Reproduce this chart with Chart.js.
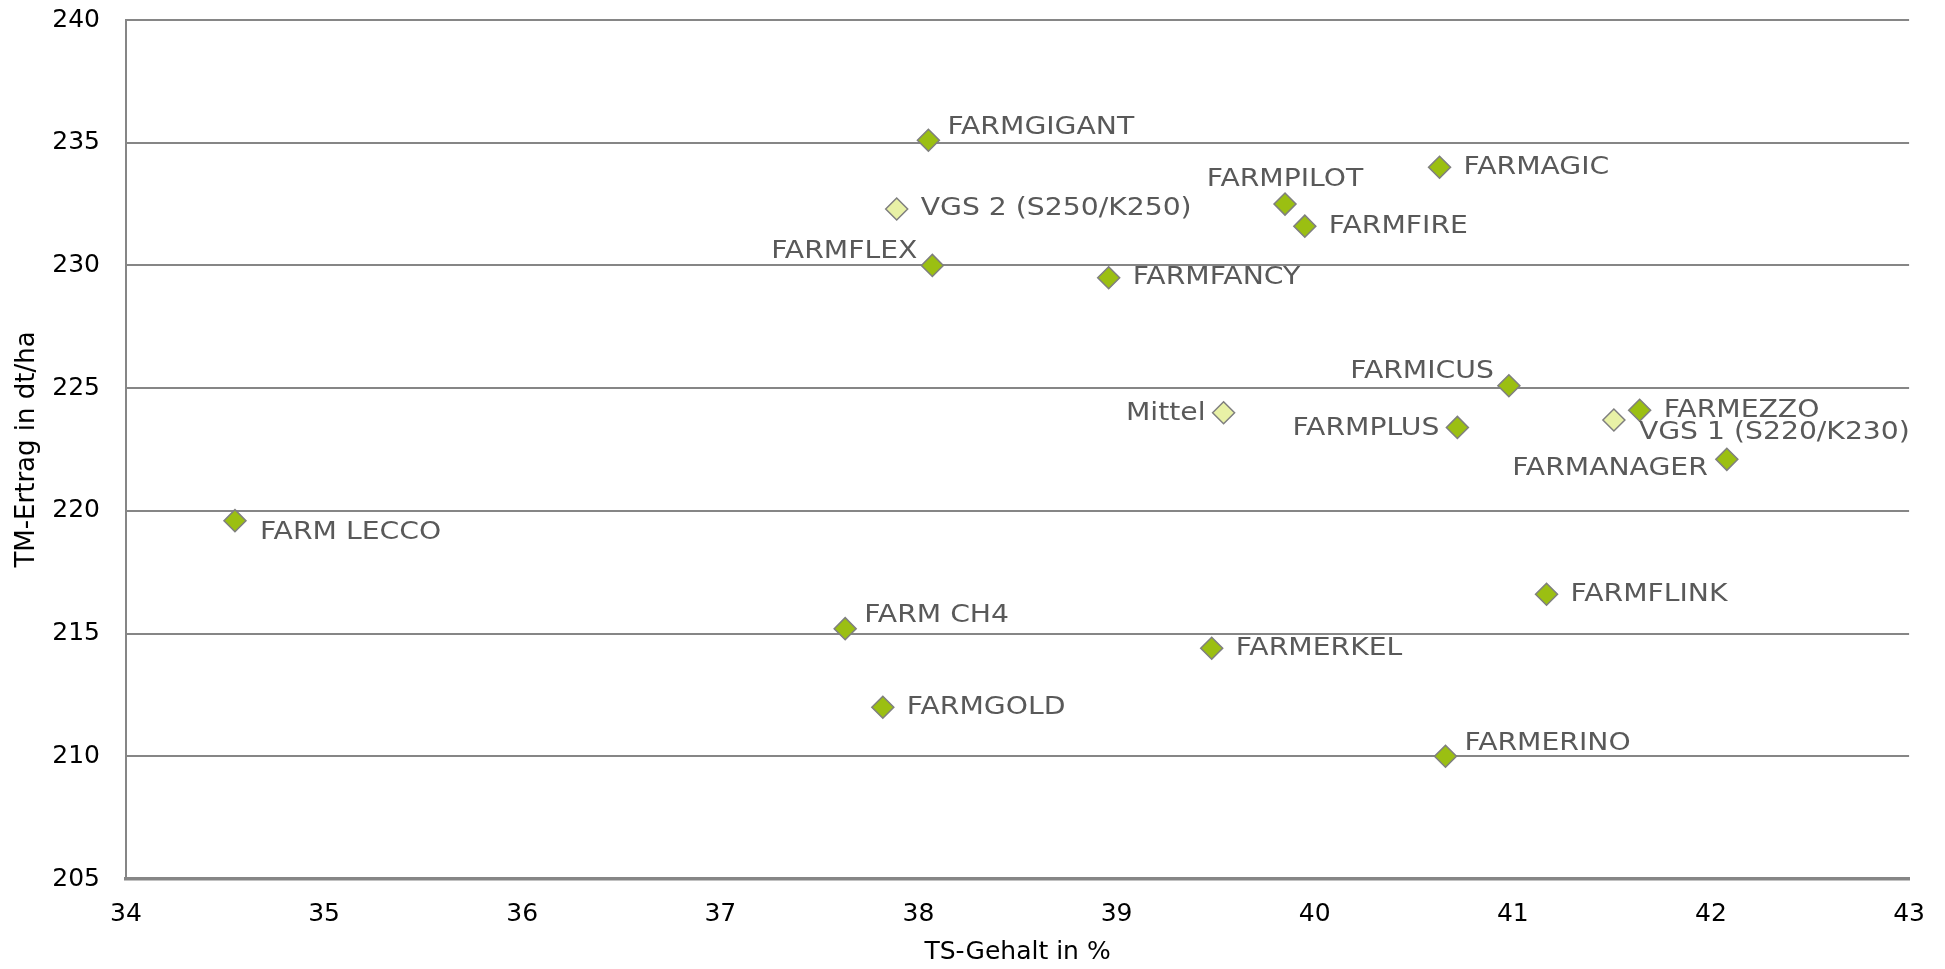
<!DOCTYPE html>
<html>
<head>
<meta charset="utf-8">
<script src="https://cdn.jsdelivr.net/npm/chart.js@4.4.1/dist/chart.umd.min.js"></script>
<style>
    html, body { margin: 0; padding: 0; background: #ffffff; }
    .wrap { position: relative; width: 1945px; height: 969px; }
</style>
</head>
<body>
<div class="wrap"><canvas id="chart"></canvas></div>
<script>
// Sorten (Name, TS-Gehalt in %, TM-Ertrag in dt/ha)
const names = ['FARM LECCO', 'FARMGIGANT', 'VGS 2 (S250/K250)', 'FARMFLEX', 'FARMFANCY',
    'FARMPILOT', 'FARMFIRE', 'FARMAGIC', 'Mittel', 'FARMICUS', 'FARMPLUS', 'FARMEZZO',
    'VGS 1 (S220/K230)', 'FARMANAGER', 'FARMFLINK', 'FARM CH4', 'FARMERKEL', 'FARMGOLD', 'FARMERINO'];
const tsGehalt = [34.55, 38.05, 37.89, 38.07, 38.96, 39.85, 39.95, 40.63, 39.54, 40.98, 40.72, 41.64,
    41.51, 42.08, 41.17, 37.63, 39.48, 37.82, 40.66];
const tmErtrag = [219.6, 235.1, 232.3, 230.0, 229.5, 232.5, 231.6, 234.0, 224.0, 225.1, 223.4, 224.1,
    223.7, 222.1, 216.6, 215.2, 214.4, 212.0, 210.0];
// Vergleichswerte (hell dargestellt)
const referenz = ['VGS 2 (S250/K250)', 'Mittel', 'VGS 1 (S220/K230)'];
// Lage der Beschriftung zum Punkt
const labelPos = ['rb', 'ra', 'r', 'la', 'r', 'a', 'r', 'r', 'l', 'la', 'l', 'r',
    'rb', 'lb', 'r', 'ra', 'r', 'r', 'ra'];

const xTicks = [34, 43, 1];
const yTicks = [205, 240, 5];

const FONT = "'Century Gothic', 'URW Gothic', 'DejaVu Sans', sans-serif";
const green = '#9bbf12';
const pale = '#e8f1a6';

const offsets = {
    r: [24, 0, 'left'],
    ra: [19, -13, 'left'],
    rb: [25, 12, 'left'],
    l: [-18, 1, 'right'],
    la: [-15, -14, 'right'],
    lb: [-19, 9, 'right'],
    a: [0, -25, 'center']
};

const points = names.map((n, i) => ({ x: tsGehalt[i], y: tmErtrag[i] }));

// Beschriftung der Punkte, etwas breiter gezogen wie Century Gothic
const pointLabels = {
    id: 'pointLabels',
    afterDatasetsDraw(chart) {
        const ctx = chart.ctx;
        const meta = chart.getDatasetMeta(0);
        meta.data.forEach((el, i) => {
            const o = offsets[labelPos[i]];
            ctx.save();
            ctx.font = '25px ' + FONT;
            ctx.fillStyle = '#595959';
            ctx.textBaseline = 'middle';
            ctx.textAlign = o[2];
            ctx.translate(el.x + o[0], el.y + o[1]);
            ctx.scale(1.13, 1);
            ctx.fillText(names[i], 0, 0);
            ctx.restore();
        });
    }
};

new Chart(document.getElementById('chart'), {
    type: 'scatter',
    data: {
        datasets: [{
            label: 'Sorten',
            data: points,
            pointStyle: 'rectRot',
            pointRadius: 11,
            pointHoverRadius: 11,
            borderWidth: 1.5,
            borderColor: '#7f7f7f',
            backgroundColor: names.map(n => referenz.includes(n) ? pale : green)
        }]
    },
    options: {
        responsive: true,
        maintainAspectRatio: false,
        animation: false,
        layout: {
            padding: { left: 0, right: 31, top: 20, bottom: 0 }
        },
        scales: {
            x: {
                type: 'linear',
                min: xTicks[0],
                max: xTicks[1],
                afterFit: (s) => { s.height = 90; },
                ticks: {
                    stepSize: xTicks[2],
                    padding: 20,
                    color: '#000000',
                    font: { family: FONT, size: 25 }
                },
                grid: { display: false, drawTicks: false },
                border: { display: true, color: '#868686', width: 3.5 },
                title: {
                    display: true,
                    text: 'TS-Gehalt in %',
                    color: '#000000',
                    font: { family: FONT, size: 25 },
                    padding: { top: 0, bottom: 2 }
                }
            },
            y: {
                type: 'linear',
                min: yTicks[0],
                max: yTicks[1],
                afterFit: (s) => {
                    s.width = 126;
                    s.paddingTop = 0;
                    s.paddingBottom = 0;
                },
                ticks: {
                    stepSize: yTicks[2],
                    padding: 26,
                    color: '#000000',
                    font: { family: FONT, size: 25 }
                },
                grid: { color: '#868686', lineWidth: 2, drawTicks: false },
                border: { display: true, color: '#868686', width: 2 },
                title: {
                    display: true,
                    text: 'TM-Ertrag in dt/ha',
                    color: '#000000',
                    font: { family: FONT, size: 26 },
                    padding: { top: 12, bottom: 0 }
                }
            }
        },
        plugins: {
            legend: { display: false },
            tooltip: { enabled: false }
        }
    },
    plugins: [pointLabels]
});
</script>
</body>
</html>
